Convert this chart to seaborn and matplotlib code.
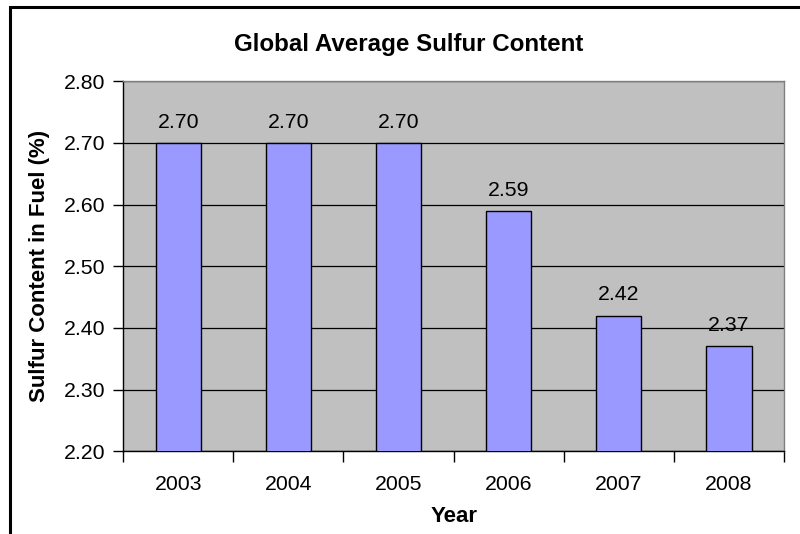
import matplotlib
matplotlib.use("Agg")
import matplotlib.pyplot as plt
import seaborn as sns
import pandas as pd
from matplotlib.patches import Rectangle
from matplotlib.ticker import FixedLocator

years = ['2003', '2004', '2005', '2006', '2007', '2008']
sulfur = [2.70, 2.70, 2.70, 2.59, 2.42, 2.37]
yticks = [2.20, 2.30, 2.40, 2.50, 2.60, 2.70, 2.80]

df = pd.DataFrame({'Year': years, 'Sulfur': sulfur})

sns.set_style('white')
plt.rcParams['font.family'] = ['Liberation Sans', 'DejaVu Sans']
plt.rcParams['text.color'] = 'black'
plt.rcParams['axes.labelcolor'] = 'black'
plt.rcParams['xtick.color'] = 'black'
plt.rcParams['ytick.color'] = 'black'

fig = plt.figure(figsize=(8, 5.34), dpi=100)
ax = fig.add_axes([0.154, 0.155, 0.826, 0.693])

sns.barplot(data=df, x='Year', y='Sulfur', color='#9999FF', width=0.41,
            edgecolor='black', linewidth=1.0, saturation=1, ax=ax, zorder=3)

ax.set_facecolor('#C0C0C0')
ax.set_ylim(2.20, 2.80)
ax.set_xlim(-0.5, len(years) - 0.5)
ax.set_yticks(yticks)
ax.set_yticklabels([f'{v:.2f}' for v in yticks], fontsize=15.3)
ax.yaxis.grid(True, color='black', linewidth=0.9, zorder=1)
ax.set_axisbelow(True)

# ticks between the categories, like Excel
ax.tick_params(axis='x', which='major', length=0, labelsize=15.3, pad=17)
ax.xaxis.set_minor_locator(FixedLocator([i - 0.5 for i in range(len(years) + 1)]))
ax.tick_params(axis='x', which='minor', length=8, width=1, direction='out', bottom=True)
ax.tick_params(axis='y', length=7, width=1, direction='out', left=True, pad=6)

for s in ['left', 'bottom']:
    ax.spines[s].set_color('black')
    ax.spines[s].set_linewidth(1.0)
for s in ['top', 'right']:
    ax.spines[s].set_color('#808080')
    ax.spines[s].set_linewidth(1.0)

for i, v in enumerate(sulfur):
    ax.annotate(f'{v:.2f}', (i, v), xytext=(0, 8), textcoords='offset points',
                ha='center', va='bottom', fontsize=15.3)

ax.set_xlabel('Year', fontsize=16, fontweight='bold', labelpad=9)
ax.set_ylabel('Sulfur Content in Fuel (%)', fontsize=16, fontweight='bold', labelpad=10)
fig.text(0.511, 0.917, 'Global Average Sulfur Content', ha='center', va='center',
         fontsize=17.4, fontweight='bold')

# outer chart border (cropped at right and bottom)
fig.patches.append(Rectangle((0.012, -0.2), 1.2, 1.186, transform=fig.transFigure,
                             fill=False, edgecolor='black', linewidth=2.2))

fig.savefig('out.png', dpi=100)
